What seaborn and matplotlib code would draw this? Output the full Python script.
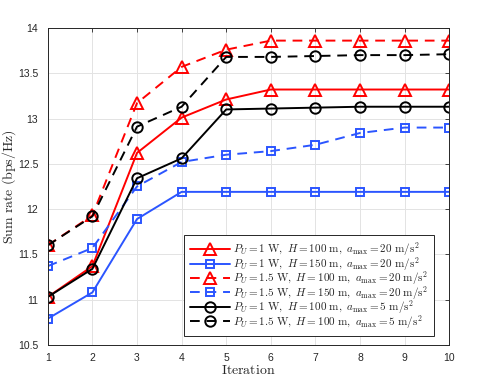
import numpy as np
import pandas as pd
import seaborn as sns
import matplotlib
matplotlib.use('Agg')
import matplotlib.pyplot as plt

iterations = [1, 2, 3, 4, 5, 6, 7, 8, 9, 10]

red_solid = [11.03, 11.37, 12.62, 13.01, 13.21, 13.32, 13.32, 13.32, 13.32, 13.32]
blue_solid = [10.79, 11.08, 11.89, 12.19, 12.19, 12.19, 12.19, 12.19, 12.19, 12.19]
red_dashed = [11.60, 11.93, 13.17, 13.57, 13.76, 13.86, 13.86, 13.86, 13.86, 13.86]
blue_dashed = [11.37, 11.57, 12.25, 12.52, 12.60, 12.64, 12.71, 12.84, 12.90, 12.90]
black_solid = [11.03, 11.34, 12.34, 12.56, 13.10, 13.11, 13.12, 13.13, 13.13, 13.13]
black_dashed = [11.60, 11.92, 12.91, 13.13, 13.68, 13.68, 13.69, 13.70, 13.70, 13.71]

labels = [
    r'$P_U = 1\ \mathrm{W},\ H = 100\ \mathrm{m},\ a_{\max} = 20\ \mathrm{m/s^2}$',
    r'$P_U = 1\ \mathrm{W},\ H = 150\ \mathrm{m},\ a_{\max} = 20\ \mathrm{m/s^2}$',
    r'$P_U = 1.5\ \mathrm{W},\ H = 100\ \mathrm{m},\ a_{\max} = 20\ \mathrm{m/s^2}$',
    r'$P_U = 1.5\ \mathrm{W},\ H = 150\ \mathrm{m},\ a_{\max} = 20\ \mathrm{m/s^2}$',
    r'$P_U = 1\ \mathrm{W},\ H = 100\ \mathrm{m},\ a_{\max} = 5\ \mathrm{m/s^2}$',
    r'$P_U = 1.5\ \mathrm{W},\ H = 100\ \mathrm{m},\ a_{\max} = 5\ \mathrm{m/s^2}$',
]

series = [red_solid, blue_solid, red_dashed, blue_dashed, black_solid, black_dashed]
colors = ['#ff0000', '#2b55ff', '#ff0000', '#2b55ff', '#000000', '#000000']
markers = ['^', 's', '^', 's', 'o', 'o']
msizes = [8.5, 5.5, 8.5, 5.5, 7.5, 7.5]
styles = ['-', '-', (0, (5, 3.5)), (0, (5, 3.5)), '-', (0, (5, 3.5))]

sns.set_style('white')
plt.rcParams['mathtext.fontset'] = 'cm'
plt.rcParams['font.family'] = ['Liberation Sans', 'DejaVu Sans']

fig = plt.figure(figsize=(4.98, 3.88), dpi=100)
ax = fig.add_axes([0.096, 0.111, 0.806, 0.817])

for vals, c, m, ms, ls, lab in zip(series, colors, markers, msizes, styles, labels):
    sns.lineplot(x=iterations, y=vals, ax=ax, color=c, marker=m, markersize=ms,
                 markerfacecolor='none', markeredgecolor=c, markeredgewidth=1.4,
                 linestyle=ls, linewidth=1.4, label=lab)

ax.set_xlim(1, 10)
ax.set_ylim(10.5, 14)
ax.set_xticks(iterations)
ax.set_yticks([10.5, 11, 11.5, 12, 12.5, 13, 13.5, 14])
ax.set_yticklabels(['10.5', '11', '11.5', '12', '12.5', '13', '13.5', '14'])
ax.tick_params(direction='in', length=3, width=0.6, labelsize=7.5, colors='#262626',
               top=True, right=True)
ax.tick_params(axis='y', pad=7)
ax.tick_params(axis='x', pad=6)
ax.grid(True, color='#e3e3e3', linewidth=0.7)
for sp in ax.spines.values():
    sp.set_color('#262626')
    sp.set_linewidth(0.7)
    sp.set_visible(True)

ax.set_xlabel(r'$\mathrm{Iteration}$', fontsize=10, labelpad=0)
ax.set_ylabel(r'$\mathrm{Sum\ rate\ (bps/Hz)}$', fontsize=10, labelpad=0)

leg = ax.legend(loc='lower right', bbox_to_anchor=(0.962, 0.028), borderaxespad=0,
                fontsize=8, handlelength=3.6, handletextpad=0.3, labelspacing=-0.3,
                borderpad=0.5, frameon=True, fancybox=False, framealpha=1)
leg.get_frame().set_edgecolor('#262626')
leg.get_frame().set_linewidth(0.7)

fig.savefig('out.png', dpi=100)
